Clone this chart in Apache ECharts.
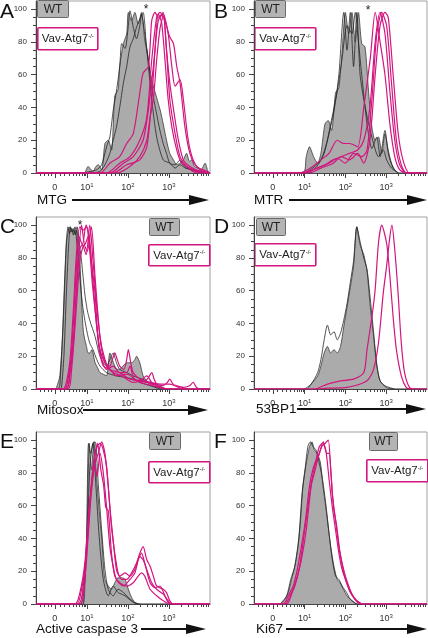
<!DOCTYPE html>
<html><head><meta charset="utf-8">
<script src="https://cdn.jsdelivr.net/npm/echarts/dist/echarts.min.js"></script>
<style>html,body{margin:0;padding:0;background:#fff}#c{width:428px;height:638px}</style>
</head><body><div id="c"></div><script>
// x values are log10 of fluorescence (display scale), y values are % of max
const xMajorTicks = [0.22, 1, 2, 3];
const xMajorLabels = ['0', '10{s|1}', '10{s|2}', '10{s|3}'];
const xMinorTicks = [-0.14,-0.04,0.06,0.14,0.34,0.46,0.56,0.66,0.74,0.82,0.88,0.93,0.97,
  1.301,1.477,1.602,1.699,1.778,1.845,1.903,1.954,
  2.301,2.477,2.602,2.699,2.778,2.845,2.903,2.954,
  3.301,3.477,3.602,3.699,3.778,3.845,3.903,3.954];
const yMajorTicks = [0,20,40,60,80,100];
const yMinorTicks = [5,10,15,25,30,35,45,50,55,65,70,75,85,90,95];
const axisTitles = ['MTG','MTR','Mitosox','53BP1','Active caspase 3','Ki67'];
const panelLetters = ['A','B','C','D','E','F'];

// ---- Panel A (MTG)
const A_wt_fill = [[-0.24,0],[0.93,0],[1.03,4],[1.1,2],[1.15,1],[1.22,4],[1.28,5],[1.36,2],[1.44,18],[1.52,20],[1.6,14],[1.68,47],[1.76,51],[1.8,65],[1.89,79],[1.97,85],[2.01,98],[2.09,93],[2.17,98],[2.25,91],[2.33,98],[2.41,81],[2.46,75],[2.54,62],[2.62,53],[2.7,46],[2.78,39],[2.86,30],[2.94,20],[3.02,12],[3.11,8],[3.19,5],[3.27,6],[3.35,8],[3.43,12],[3.5,7],[3.55,8],[3.62,4],[3.7,3],[3.78,2],[3.88,6],[3.95,1],[4.0,0]];
const A_wt_line1 = [[0.9,0],[1.1,1],[1.24,2],[1.36,5],[1.48,16],[1.56,22],[1.64,38],[1.72,50],[1.8,65],[1.85,79],[1.93,76],[2.01,90],[2.05,99],[2.13,89],[2.21,82],[2.29,90],[2.33,97],[2.41,85],[2.46,75],[2.58,45],[2.7,22],[2.86,8],[3.02,6],[3.15,3],[3.27,5],[3.4,3],[3.55,2],[3.8,0]];
const A_wt_line2 = [[1.1,0],[1.32,1],[1.44,5],[1.56,12],[1.64,20],[1.72,28],[1.8,40],[1.89,55],[1.97,65],[2.05,77],[2.13,82],[2.21,89],[2.29,94],[2.37,98],[2.45,78],[2.5,69],[2.58,52],[2.66,41],[2.78,26],[2.86,18],[2.94,12],[3.02,6],[3.15,5],[3.27,8],[3.35,5],[3.43,3],[3.6,2],[3.76,1],[4.0,0]];
const A_ko1 = [[-0.24,0],[1.32,0],[1.56,6],[1.8,10],[1.97,18],[2.13,24],[2.29,49],[2.37,61],[2.5,65],[2.58,93],[2.66,98],[2.74,95],[2.86,98],[2.94,75],[3.02,55],[3.11,39],[3.23,20],[3.35,8],[3.51,4],[3.76,1],[4.0,0]];
const A_ko2 = [[-0.24,0],[1.48,0],[1.8,6],[2.05,10],[2.29,20],[2.46,34],[2.58,69],[2.7,95],[2.78,98],[2.9,93],[3.02,83],[3.11,79],[3.19,65],[3.27,55],[3.39,28],[3.51,12],[3.67,4],[3.92,1],[4.0,0]];
const A_ko3 = [[-0.24,0],[1.56,0],[1.89,6],[2.13,10],[2.37,20],[2.5,39],[2.62,65],[2.74,93],[2.86,97],[2.98,85],[3.07,65],[3.15,53],[3.27,57],[3.35,45],[3.47,20],[3.59,8],[3.76,2],[4.0,0]];
const A_ko4 = [[-0.24,0],[1.64,0],[1.97,5],[2.29,8],[2.46,16],[2.58,45],[2.66,75],[2.74,97],[2.82,92],[2.9,70],[2.98,45],[3.07,28],[3.19,14],[3.31,6],[3.51,3],[3.8,0],[4.0,0]];
const A_ko5 = [[-0.24,0],[1.72,0],[2.05,4],[2.29,10],[2.46,20],[2.54,34],[2.62,45],[2.7,69],[2.78,88],[2.86,96],[2.94,75],[3.02,45],[3.15,24],[3.27,10],[3.43,4],[3.7,0],[4.0,0]];

// ---- Panel B (MTR)
const B_wt_fill = [[-0.24,0],[0.96,0],[1.04,10],[1.12,16],[1.22,10],[1.32,6],[1.4,12],[1.5,30],[1.58,32],[1.66,26],[1.76,49],[1.84,52],[1.92,75],[2.0,98],[2.08,85],[2.16,98],[2.24,80],[2.32,98],[2.4,79],[2.48,77],[2.57,49],[2.65,28],[2.73,20],[2.81,22],[2.89,12],[2.97,24],[3.05,14],[3.13,6],[3.21,2],[3.3,0],[4.0,0]];
const B_wt_line1 = [[1.0,0],[1.2,3],[1.4,8],[1.56,20],[1.72,38],[1.84,60],[1.96,98],[2.04,75],[2.12,98],[2.2,65],[2.28,98],[2.36,60],[2.45,45],[2.57,30],[2.69,18],[2.81,10],[2.93,14],[3.01,8],[3.13,3],[3.3,0]];
const B_wt_line2 = [[1.1,0],[1.3,4],[1.48,12],[1.64,30],[1.8,50],[1.92,70],[2.04,90],[2.16,85],[2.24,98],[2.32,80],[2.4,60],[2.53,30],[2.65,15],[2.77,22],[2.85,10],[2.97,26],[3.05,12],[3.17,3],[3.3,0]];
const B_ko1 = [[-0.24,0],[0.85,0],[1.0,1],[1.2,4],[1.4,8],[1.6,12],[1.8,20],[1.96,18],[2.1,18],[2.3,16],[2.45,40],[2.61,70],[2.73,98],[2.85,80],[2.97,60],[3.09,30],[3.21,10],[3.33,2],[3.5,0],[4.0,0]];
const B_ko2 = [[-0.24,0],[0.9,0],[1.2,2],[1.5,5],[1.7,8],[1.9,10],[2.1,12],[2.3,14],[2.45,20],[2.6,40],[2.73,80],[2.85,98],[2.97,85],[3.09,50],[3.21,20],[3.33,5],[3.5,0],[4.0,0]];
const B_ko3 = [[-0.24,0],[1.0,0],[1.3,3],[1.6,6],[1.8,9],[2.0,6],[2.2,12],[2.4,10],[2.53,14],[2.65,45],[2.77,85],[2.89,98],[3.01,90],[3.13,55],[3.25,20],[3.37,5],[3.5,0],[4.0,0]];
const B_ko4 = [[-0.24,0],[1.1,0],[1.4,3],[1.7,6],[1.9,10],[2.1,8],[2.3,12],[2.45,6],[2.6,20],[2.73,60],[2.85,90],[2.97,98],[3.05,95],[3.17,60],[3.29,25],[3.41,8],[3.57,0],[4.0,0]];

// ---- Panel C (Mitosox)
const C_wt_fill = [[-0.24,0],[0.22,0],[0.26,1],[0.34,8],[0.42,38],[0.5,88],[0.55,97],[0.59,99],[0.63,96],[0.67,98],[0.71,95],[0.75,97],[0.79,90],[0.83,78],[0.87,55],[0.91,36],[0.95,30],[0.99,26],[1.03,22],[1.07,22],[1.12,24],[1.2,16],[1.26,13],[1.32,10],[1.4,9],[1.48,8],[1.56,22],[1.62,18],[1.68,14],[1.74,12],[1.8,12],[1.88,14],[1.97,16],[2.09,16],[2.17,18],[2.21,20],[2.29,16],[2.37,8],[2.46,5],[2.54,3],[2.7,1],[2.94,0],[4.0,0]];
const C_wt_line1 = [[0.3,0],[0.34,2],[0.4,30],[0.46,68],[0.5,90],[0.54,99],[0.58,95],[0.63,98],[0.67,94],[0.71,99],[0.77,85],[0.83,68],[0.89,52],[0.95,42],[1.01,34],[1.07,28],[1.15,24],[1.24,18],[1.32,14],[1.48,10],[1.72,8],[1.95,7],[2.13,6],[2.3,4],[2.54,2],[2.78,0]];
const C_wt_line2 = [[0.34,0],[0.38,1],[0.44,20],[0.5,58],[0.56,90],[0.6,99],[0.64,96],[0.68,97],[0.72,94],[0.76,99],[0.82,88],[0.87,78],[0.95,58],[1.01,48],[1.07,42],[1.2,32],[1.32,20],[1.48,14],[1.56,18],[1.64,22],[1.72,16],[1.8,12],[1.97,10],[2.13,8],[2.35,6],[2.54,4],[2.75,2],[2.94,0]];
const C_ko1 = [[-0.24,0],[0.42,0],[0.5,4],[0.59,18],[0.67,48],[0.75,84],[0.83,99],[0.91,97],[0.99,99],[1.07,84],[1.13,65],[1.2,48],[1.26,34],[1.32,24],[1.44,16],[1.56,14],[1.62,18],[1.68,22],[1.74,18],[1.8,14],[1.9,12],[1.97,18],[2.01,24],[2.07,16],[2.13,10],[2.29,6],[2.42,5],[2.5,7],[2.58,10],[2.64,6],[2.7,3],[2.85,2],[2.96,4],[3.02,6],[3.1,3],[3.19,2],[3.35,1],[3.5,2],[3.59,4],[3.67,1],[3.76,0],[4.0,0]];
const C_ko2 = [[-0.24,0],[0.46,0],[0.54,6],[0.63,24],[0.73,68],[0.81,93],[0.89,88],[0.98,100],[1.06,93],[1.14,68],[1.24,38],[1.36,18],[1.48,12],[1.64,14],[1.8,10],[1.97,10],[2.05,14],[2.13,7],[2.21,5],[2.46,4],[2.7,2],[2.94,0],[4.0,0]];
const C_ko3 = [[-0.24,0],[0.5,0],[0.58,8],[0.67,28],[0.79,78],[0.87,100],[0.95,88],[1.03,93],[1.11,78],[1.2,58],[1.28,28],[1.4,14],[1.56,12],[1.72,8],[1.97,9],[2.29,4],[2.62,2],[2.94,0],[4.0,0]];
const C_ko4 = [[-0.24,0],[0.5,0],[0.58,8],[0.68,32],[0.8,84],[0.89,88],[0.98,82],[1.07,100],[1.15,78],[1.25,48],[1.36,24],[1.48,14],[1.64,10],[1.85,8],[2.13,4],[2.3,5],[2.46,8],[2.58,4],[2.7,2],[2.94,0],[4.0,0]];
const C_ko5 = [[-0.24,0],[0.54,0],[0.62,10],[0.71,38],[0.83,78],[0.93,88],[1.01,84],[1.11,99],[1.2,68],[1.32,32],[1.44,18],[1.56,12],[1.8,10],[2.05,6],[2.37,5],[2.78,3],[3.02,3],[3.35,0],[4.0,0]];

// ---- Panel D (53BP1)
const D_wt_fill = [[-0.24,0],[1.04,0],[1.16,3],[1.32,8],[1.4,14],[1.48,22],[1.56,26],[1.64,22],[1.72,24],[1.8,22],[1.88,26],[1.96,38],[2.04,50],[2.12,62],[2.2,75],[2.28,99],[2.36,88],[2.45,82],[2.53,72],[2.61,50],[2.69,32],[2.77,14],[2.85,5],[3.0,1],[3.2,0],[4.0,0]];
const D_wt_line1 = [[1.0,0],[1.16,3],[1.32,10],[1.4,18],[1.48,30],[1.56,39],[1.64,33],[1.72,35],[1.8,30],[1.88,34],[1.96,42],[2.04,52],[2.12,65],[2.2,78],[2.28,99],[2.36,90],[2.45,80],[2.53,73],[2.61,55],[2.69,35],[2.77,15],[2.85,5],[2.97,2],[3.2,0]];
const D_ko1 = [[-0.24,0],[1.24,0],[1.56,3],[1.88,5],[2.2,6],[2.45,10],[2.53,24],[2.65,44],[2.73,61],[2.81,89],[2.89,100],[3.01,89],[3.09,69],[3.17,44],[3.25,24],[3.37,8],[3.49,1],[3.6,0],[4.0,0]];
const D_ko2 = [[-0.24,0],[1.3,0],[1.56,0.5],[2.04,1],[2.53,5],[2.69,12],[2.81,28],[2.93,59],[3.01,75],[3.09,93],[3.14,100],[3.21,85],[3.29,59],[3.37,28],[3.45,10],[3.57,1],[3.7,0],[4.0,0]];

// ---- Panel E (Active caspase 3)
const E_wt_fill = [[-0.24,0],[0.9,0],[0.95,11],[1.01,51],[1.06,98],[1.11,82],[1.17,99],[1.24,76],[1.32,51],[1.36,41],[1.4,25],[1.44,15],[1.52,11],[1.6,9],[1.68,13],[1.76,16],[1.85,16],[1.93,15],[2.01,9],[2.09,4],[2.17,1],[2.29,0],[4.0,0]];
const E_wt_line1 = [[0.87,0],[0.98,31],[1.04,98],[1.09,92],[1.15,98],[1.22,72],[1.3,41],[1.4,15],[1.52,5],[1.64,11],[1.76,7],[1.93,5],[2.13,1],[2.29,0]];
const E_wt_line2 = [[0.91,0],[1.01,41],[1.07,82],[1.14,98],[1.2,99],[1.28,72],[1.36,45],[1.44,21],[1.52,9],[1.64,5],[1.76,9],[1.89,7],[2.05,3],[2.21,0]];
const E_ko1 = [[-0.24,0],[0.71,0],[0.83,7],[0.95,25],[1.03,51],[1.11,72],[1.2,86],[1.28,92],[1.36,99],[1.44,92],[1.52,72],[1.6,47],[1.68,31],[1.76,19],[1.85,15],[1.97,15],[2.09,19],[2.21,25],[2.29,31],[2.37,35],[2.46,27],[2.54,23],[2.62,17],[2.7,11],[2.86,9],[2.94,7],[3.02,2],[3.11,0],[4.0,0]];
const E_ko2 = [[-0.24,0],[0.75,0],[0.87,9],[0.98,27],[1.07,61],[1.17,88],[1.25,96],[1.32,98],[1.4,94],[1.48,84],[1.56,59],[1.64,39],[1.72,21],[1.8,17],[1.93,19],[2.05,17],[2.17,21],[2.25,27],[2.33,31],[2.41,25],[2.54,13],[2.66,10],[2.78,11],[2.9,5],[2.98,1],[3.07,0],[4.0,0]];
const E_ko3 = [[-0.24,0],[0.79,0],[0.91,11],[1.01,41],[1.11,72],[1.2,92],[1.26,98],[1.34,82],[1.41,72],[1.46,59],[1.52,57],[1.6,31],[1.68,17],[1.8,13],[1.97,11],[2.13,13],[2.25,17],[2.33,19],[2.41,17],[2.54,9],[2.7,5],[2.86,2],[3.02,0],[4.0,0]];
const E_ko4 = [[-0.24,0],[0.83,0],[0.95,15],[1.03,41],[1.11,68],[1.2,84],[1.25,78],[1.32,92],[1.4,80],[1.48,59],[1.56,35],[1.64,23],[1.72,15],[1.89,11],[2.05,15],[2.17,19],[2.29,29],[2.37,27],[2.46,21],[2.58,13],[2.7,9],[2.86,6],[2.98,2],[3.07,0],[4.0,0]];

// ---- Panel F (Ki67)
const F_wt_fill = [[-0.24,0],[0.4,0],[0.52,3],[0.6,7],[0.68,15],[0.76,23],[0.84,35],[0.9,51],[0.96,72],[1.04,86],[1.12,96],[1.18,99],[1.24,94],[1.31,92],[1.39,86],[1.45,72],[1.52,59],[1.59,45],[1.64,35],[1.72,23],[1.8,15],[1.87,13],[1.95,9],[2.04,5],[2.16,2],[2.28,0],[4.0,0]];
const F_wt_line1 = [[0.4,0],[0.56,5],[0.66,15],[0.76,23],[0.86,41],[0.94,68],[1.02,84],[1.08,96],[1.14,99],[1.21,96],[1.28,94],[1.36,86],[1.44,76],[1.52,61],[1.6,43],[1.68,27],[1.76,17],[1.84,15],[1.92,11],[2.03,7],[2.12,3],[2.28,0]];
const F_ko1 = [[-0.24,0],[0.48,0],[0.6,5],[0.72,11],[0.82,21],[0.92,35],[1.02,51],[1.12,72],[1.2,82],[1.28,88],[1.36,96],[1.44,98],[1.52,94],[1.6,76],[1.68,59],[1.76,45],[1.84,31],[1.92,21],[2.03,13],[2.12,7],[2.24,3],[2.4,0],[4.0,0]];
const F_ko2 = [[-0.24,0],[0.52,0],[0.64,5],[0.76,11],[0.88,23],[0.98,41],[1.08,59],[1.18,76],[1.27,86],[1.36,92],[1.46,99],[1.54,92],[1.6,92],[1.68,67],[1.76,51],[1.84,35],[1.92,25],[2.0,17],[2.11,9],[2.2,4],[2.36,0],[4.0,0]];
const F_ko3 = [[-0.24,0],[0.56,0],[0.68,6],[0.8,15],[0.92,27],[1.04,45],[1.16,72],[1.24,80],[1.34,90],[1.42,96],[1.5,98],[1.58,100],[1.64,82],[1.71,59],[1.79,47],[1.87,31],[1.96,19],[2.06,11],[2.16,6],[2.28,2],[2.45,0],[4.0,0]];

const panelData = [
  {fill: A_wt_fill, wt: [A_wt_line1, A_wt_line2], ko: [A_ko1, A_ko2, A_ko3, A_ko4, A_ko5]},
  {fill: B_wt_fill, wt: [B_wt_line1, B_wt_line2], ko: [B_ko1, B_ko2, B_ko3, B_ko4]},
  {fill: C_wt_fill, wt: [C_wt_line1, C_wt_line2], ko: [C_ko1, C_ko2, C_ko3, C_ko4, C_ko5]},
  {fill: D_wt_fill, wt: [D_wt_line1], ko: [D_ko1, D_ko2]},
  {fill: E_wt_fill, wt: [E_wt_line1, E_wt_line2], ko: [E_ko1, E_ko2, E_ko3, E_ko4]},
  {fill: F_wt_fill, wt: [F_wt_line1], ko: [F_ko1, F_ko2, F_ko3]}
];

// ---- layout (pixels)
const FONT = '"Liberation Sans", Arial, Helvetica, sans-serif';
const PINK = '#d3157f';
const layout = [
  {grid:{left:36, top:1, width:174, height:172}, letter:[0,2], wt:[37,0,31,17], ko:[37,27,60,22], title:[37,200], arrow:[72,209], star:[146,4]},
  {grid:{left:254, top:1, width:173, height:172}, letter:[214,2], wt:[255,0,30,17], ko:[254,27,61,22], title:[254,200], arrow:[289,427], star:[368,5]},
  {grid:{left:36, top:217, width:174, height:172}, letter:[0,217], wt:[149,218,30,17], ko:[148,244,61,21], title:[37,410], arrow:[83,208], star:[80,220]},
  {grid:{left:254, top:217, width:173, height:172}, letter:[214,217], wt:[256,218,29,17], ko:[254,243,61,22], title:[256,409], arrow:[297,426], star:null},
  {grid:{left:36, top:432, width:174, height:172}, letter:[0,432], wt:[149,432,31,17], ko:[148,461,61,21], title:[36,629], arrow:[141,206], star:null},
  {grid:{left:254, top:432, width:173, height:172}, letter:[214,432], wt:[369,432,28,18], ko:[366,459,61,22], title:[256,629], arrow:[286,427], star:null}
];

const grids = [], xAxes = [], yAxes = [], series = [], graphics = [];
layout.forEach((L, i) => {
  grids.push(Object.assign({show:true, borderColor:'#a0a0a0', borderWidth:1, backgroundColor:'transparent'}, L.grid));
  const xBase = {gridIndex:i, type:'value', min:-0.24, max:4.0, position:'bottom', splitLine:{show:false}};
  xAxes.push(Object.assign({}, xBase, {
    axisLine:{show:true, onZero:false, lineStyle:{color:'#444', width:1}},
    axisTick:{show:true, customValues:xMajorTicks, length:5, lineStyle:{color:'#444'}},
    axisLabel:{show:true, customValues:xMajorTicks, fontSize:9, color:'#333', fontFamily:FONT, margin:9, lineHeight:11,
      formatter: v => { const k = xMajorTicks.indexOf(v); return k >= 0 ? xMajorLabels[k] : ''; },
      rich:{s:{fontSize:6, lineHeight:6, verticalAlign:'top', color:'#333', fontFamily:FONT}}}
  }));
  xAxes.push(Object.assign({}, xBase, {
    axisLine:{show:false, onZero:false}, axisLabel:{show:false},
    axisTick:{show:true, customValues:xMinorTicks, length:3, lineStyle:{color:'#444'}}
  }));
  const yBase = {gridIndex:i, type:'value', min:0, max:105, position:'left', splitLine:{show:false}};
  yAxes.push(Object.assign({}, yBase, {
    axisLine:{show:true, onZero:false, lineStyle:{color:'#444'}},
    axisTick:{show:true, customValues:yMajorTicks, length:5, lineStyle:{color:'#444'}},
    axisLabel:{show:true, customValues:yMajorTicks, fontSize:8, color:'#333', fontFamily:FONT, margin:9}
  }));
  yAxes.push(Object.assign({}, yBase, {
    axisLine:{show:false, onZero:false}, axisLabel:{show:false},
    axisTick:{show:true, customValues:yMinorTicks, length:3, lineStyle:{color:'#444'}}
  }));
  const P = panelData[i];
  const common = {type:'line', xAxisIndex:2*i, yAxisIndex:2*i, symbol:'none', smooth:0.25, silent:true, animation:false};
  series.push(Object.assign({}, common, {data:P.fill, z:2, lineStyle:{color:'#3a3a3a', width:0.8}, areaStyle:{color:'#ababab', opacity:1}}));
  P.wt.forEach(d => series.push(Object.assign({}, common, {data:d, z:3, lineStyle:{color:'#262626', width:0.8}})));
  P.ko.forEach(d => series.push(Object.assign({}, common, {data:d, z:4, lineStyle:{color:PINK, width:1.2}})));

  graphics.push({type:'text', left:L.letter[0], top:L.letter[1], style:{text:panelLetters[i], font:'21px ' + FONT, fill:'#111'}});
  graphics.push({type:'group', left:L.wt[0], top:L.wt[1], children:[
    {type:'rect', shape:{x:0, y:0, width:L.wt[2], height:L.wt[3], r:1}, style:{fill:'#b4b4b4', stroke:'#6a6a6a', lineWidth:1}},
    {type:'text', x:L.wt[2]/2, y:L.wt[3]/2+0.5, style:{text:'WT', font:'12px ' + FONT, fill:'#222', align:'center', verticalAlign:'middle'}}
  ]});
  graphics.push({type:'group', left:L.ko[0], top:L.ko[1], children:[
    {type:'rect', shape:{x:0, y:0, width:L.ko[2], height:L.ko[3], r:1}, style:{fill:'#fff', stroke:PINK, lineWidth:1.6}},
    {type:'text', x:L.ko[2]/2, y:L.ko[3]/2+0.5, style:{text:'Vav-Atg7{s|-/-}', font:'11.5px ' + FONT, fill:'#222', align:'center', verticalAlign:'middle',
      rich:{s:{fontSize:6, lineHeight:6, verticalAlign:'top', fontFamily:FONT, fill:'#222'}}}}
  ]});
  const ty = L.title[1];
  graphics.push({type:'text', x:L.title[0], y:ty, style:{text:axisTitles[i], font:'13.5px ' + FONT, fill:'#111', verticalAlign:'middle'}});
  graphics.push({type:'line', shape:{x1:L.arrow[0], y1:ty, x2:L.arrow[1]-18, y2:ty}, style:{stroke:'#111', lineWidth:2}});
  graphics.push({type:'polygon', shape:{points:[[L.arrow[1]-20, ty-5],[L.arrow[1], ty],[L.arrow[1]-20, ty+5]]}, style:{fill:'#111'}});
  if (L.star) graphics.push({type:'text', x:L.star[0], y:L.star[1], style:{text:'*', font:'12px ' + FONT, fill:'#222', align:'center', verticalAlign:'top'}});
});

const chart = echarts.init(document.getElementById('c'), null, {renderer:'canvas'});
chart.setOption({animation:false, backgroundColor:'#fff', grid:grids, xAxis:xAxes, yAxis:yAxes, series:series, graphic:graphics});
</script></body></html>
